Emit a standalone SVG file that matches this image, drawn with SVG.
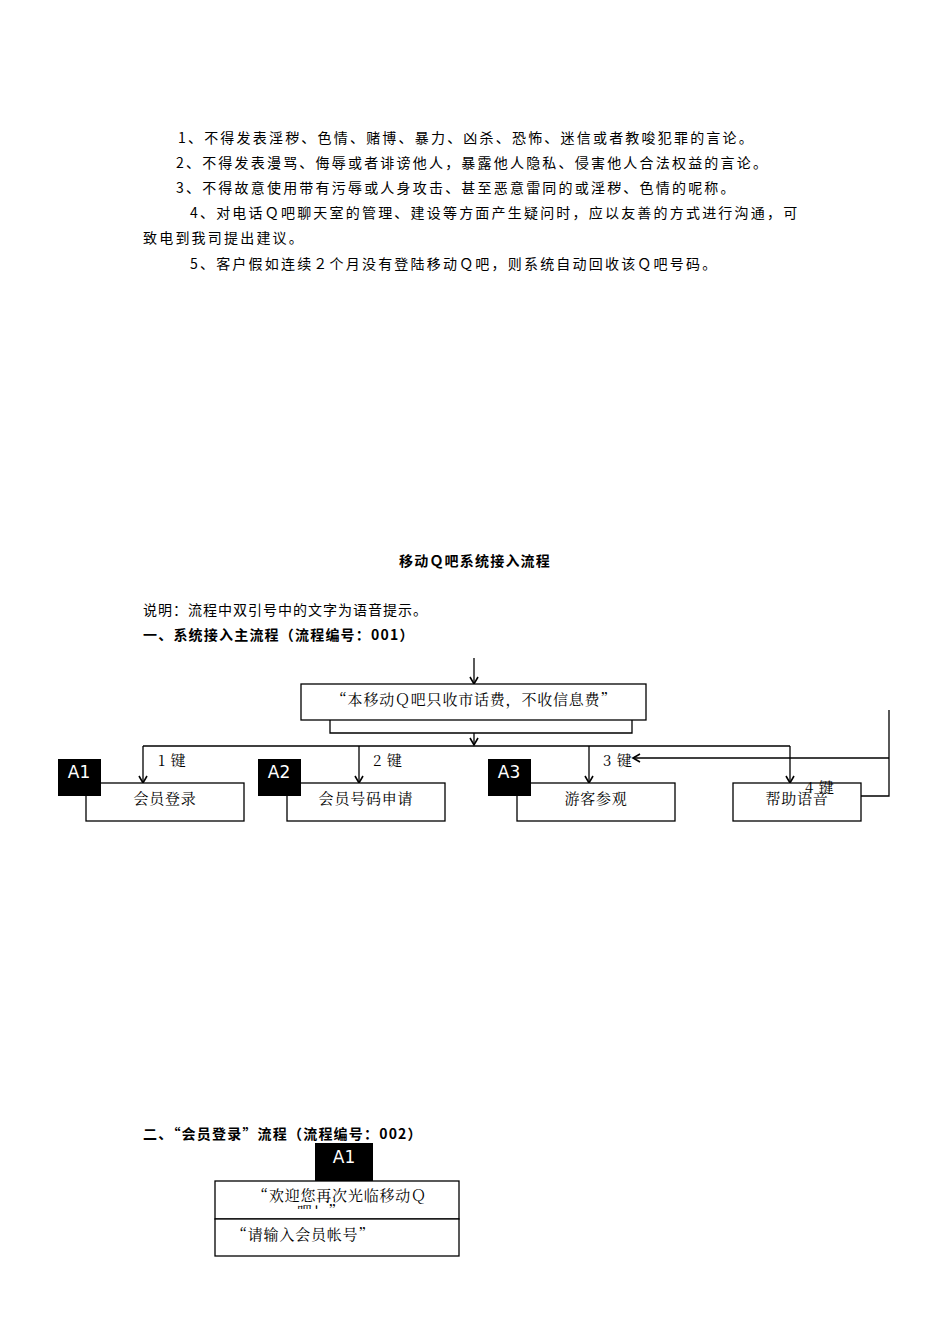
<svg xmlns="http://www.w3.org/2000/svg" width="950" height="1344" viewBox="0 0 950 1344">
<defs>
<style>
.t{font-family:"Noto Sans CJK SC","Noto Sans",sans-serif;font-size:14px;letter-spacing:2.2px;fill:#000}
.b{font-family:"Noto Sans CJK SC","Noto Sans",sans-serif;font-size:14px;font-weight:bold;letter-spacing:1.2px;fill:#000}
.s{font-family:"Noto Serif CJK SC","Liberation Serif","Noto Sans CJK SC",serif;font-size:15px;letter-spacing:0.8px;fill:#000}
.box{fill:#fff;stroke:#000;stroke-width:1.3}
.lbl{fill:#000}
.lt{font-family:"DejaVu Sans",sans-serif;font-size:17px;fill:#fff}
.ln{fill:none;stroke:#000;stroke-width:1.3}
</style>
<marker id="ar" markerWidth="10" markerHeight="10" refX="8" refY="5" orient="auto" markerUnits="userSpaceOnUse">
<path d="M1,1 L8,5 L1,9" fill="none" stroke="#000" stroke-width="1.6"/>
</marker>
<clipPath id="c1"><rect x="215" y="1181" width="244" height="28"/></clipPath>
</defs>
<rect width="950" height="1344" fill="#fff"/>
<text class="t" x="178" y="143">1、不得发表淫秽、色情、赌博、暴力、凶杀、恐怖、迷信或者教唆犯罪的言论。</text>
<text class="t" x="176" y="168">2、不得发表漫骂、侮辱或者诽谤他人，暴露他人隐私、侵害他人合法权益的言论。</text>
<text class="t" x="176" y="193">3、不得故意使用带有污辱或人身攻击、甚至恶意雷同的或淫秽、色情的呢称。</text>
<text class="t" x="190" y="218">4、对电话Ｑ吧聊天室的管理、建设等方面产生疑问时，应以友善的方式进行沟通，可</text>
<text class="t" x="143" y="243">致电到我司提出建议。</text>
<text class="t" x="190" y="269">5、客户假如连续２个月没有登陆移动Ｑ吧，则系统自动回收该Ｑ吧号码。</text>
<text class="b" x="475" y="566" text-anchor="middle">移动Ｑ吧系统接入流程</text>
<text class="t" x="143" y="615" style="letter-spacing:1px">说明：流程中双引号中的文字为语音提示。</text>
<text class="b" x="143" y="640">一、系统接入主流程（流程编号：001）</text>
<g id="connectors">
<path class="ln" d="M330,720 V733 H632 V720"/>
<line class="ln" x1="474" y1="658" x2="474" y2="684" marker-end="url(#ar)"/>
<line class="ln" x1="474" y1="698" x2="474" y2="713" marker-end="url(#ar)"/>
<line class="ln" x1="474" y1="733" x2="474" y2="745" marker-end="url(#ar)"/>
<line class="ln" x1="143" y1="746" x2="790" y2="746"/>
<line class="ln" x1="143" y1="746" x2="143" y2="783" marker-end="url(#ar)"/>
<line class="ln" x1="359" y1="746" x2="359" y2="783" marker-end="url(#ar)"/>
<line class="ln" x1="589" y1="746" x2="589" y2="783" marker-end="url(#ar)"/>
<line class="ln" x1="790" y1="746" x2="790" y2="783" marker-end="url(#ar)"/>
<path class="ln" d="M861,796 H889 V710"/>
<line class="ln" x1="889" y1="758" x2="633" y2="758" marker-end="url(#ar)"/>
<text class="s" x="158" y="766">1 键</text>
<text class="s" x="373" y="766">2 键</text>
<text class="s" x="603" y="766">3 键</text>
</g>
<g id="n0"><rect class="box" x="301" y="684" width="345" height="36"/><text class="s" x="474" y="705" text-anchor="middle">“本移动Ｑ吧只收市话费，不收信息费”</text></g>
<g id="n1"><rect class="box" x="86" y="783" width="158" height="38"/><text class="s" x="165" y="804" text-anchor="middle">会员登录</text><rect class="lbl" x="58" y="759" width="43" height="37"/><text class="lt" x="79" y="778" text-anchor="middle">A1</text></g>
<g id="n2"><rect class="box" x="287" y="783" width="158" height="38"/><text class="s" x="366" y="804" text-anchor="middle">会员号码申请</text><rect class="lbl" x="258" y="759" width="43" height="37"/><text class="lt" x="279" y="778" text-anchor="middle">A2</text></g>
<g id="n3"><rect class="box" x="517" y="783" width="158" height="38"/><text class="s" x="596" y="804" text-anchor="middle">游客参观</text><rect class="lbl" x="488" y="759" width="43" height="37"/><text class="lt" x="509" y="778" text-anchor="middle">A3</text></g>
<g id="n4"><rect class="box" x="733" y="783" width="128" height="38"/><text class="s" x="797" y="804" text-anchor="middle">帮助语音</text><text class="s" x="805" y="793">4 键</text></g>
<text class="b" x="143" y="1139">二、“会员登录”流程（流程编号：002）</text>
<g id="n5"><rect class="box" x="215" y="1181" width="244" height="38"/><g clip-path="url(#c1)"><text class="s" x="340" y="1201" text-anchor="middle">“欢迎您再次光临移动Ｑ</text><text class="s" x="297" y="1217" font-size="11">吧！”</text></g><rect class="lbl" x="315" y="1143" width="58" height="38"/><text class="lt" x="344" y="1163" text-anchor="middle">A1</text></g>
<g id="n6"><rect class="box" x="215" y="1219" width="244" height="37"/><text class="s" x="232" y="1240">“请输入会员帐号”</text></g>
</svg>
